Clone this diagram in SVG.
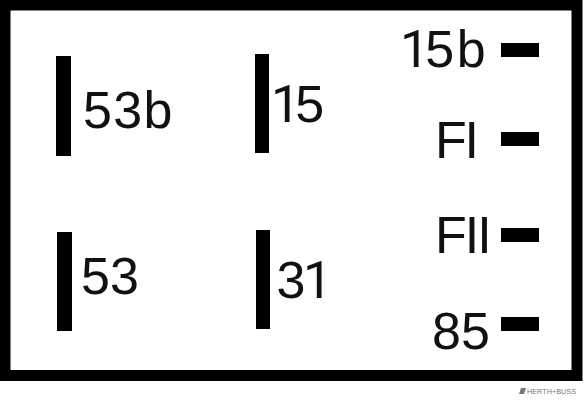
<svg xmlns="http://www.w3.org/2000/svg" width="583" height="400" viewBox="0 0 583 400">
<style>
text{font-family:"Liberation Sans",Arial,sans-serif;fill:#111}
.l{font-size:52px}
.r{font-family:Roboto,"Liberation Sans",sans-serif}
.b{fill:#000}
.logo{font-size:8px;fill:#777}
</style>
<rect width="583" height="400" fill="#fff"/>
<g id="frame"><rect x="5" y="5" width="572" height="370.500" fill="none" stroke="#000" stroke-width="11"/></g>
<g id="pin-53b"><rect class="b" x="56" y="56" width="15" height="100"/><text class="l" x="83" y="128" letter-spacing="1.300">53b</text></g>
<g id="pin-15"><rect class="b" x="255" y="54" width="14" height="99"/><text class="l" x="271" y="122"><tspan class="r" letter-spacing="-5">1</tspan>5</text></g>
<g id="pin-53"><rect class="b" x="57" y="232" width="15" height="99"/><text class="l" x="81" y="294">53</text></g>
<g id="pin-31"><rect class="b" x="256" y="230" width="14" height="99"/><text class="l" x="276.500" y="298"><tspan letter-spacing="-2.400">3</tspan><tspan class="r">1</tspan></text></g>
<g id="pin-15b"><rect class="b" x="501" y="43" width="38" height="14"/><text class="l" x="400" y="67"><tspan class="r" letter-spacing="-4">1</tspan><tspan letter-spacing="2.700">5</tspan>b</text></g>
<g id="pin-FI"><rect class="b" x="501" y="132" width="38" height="14"/><text class="l" x="435" y="158" letter-spacing="-2.300">FI</text></g>
<g id="pin-FII"><rect class="b" x="501" y="228" width="38" height="14"/><text class="l" x="435" y="253" letter-spacing="-2">FII</text></g>
<g id="pin-85"><rect class="b" x="501" y="317" width="38" height="14"/><text class="l" x="432" y="349">85</text></g>
<g id="logo"><polygon points="519,394 521,388 526,388 524,394" fill="#777"/><text class="logo" x="527" y="394" textLength="49" lengthAdjust="spacingAndGlyphs">HERTH+BUSS</text></g>
</svg>
